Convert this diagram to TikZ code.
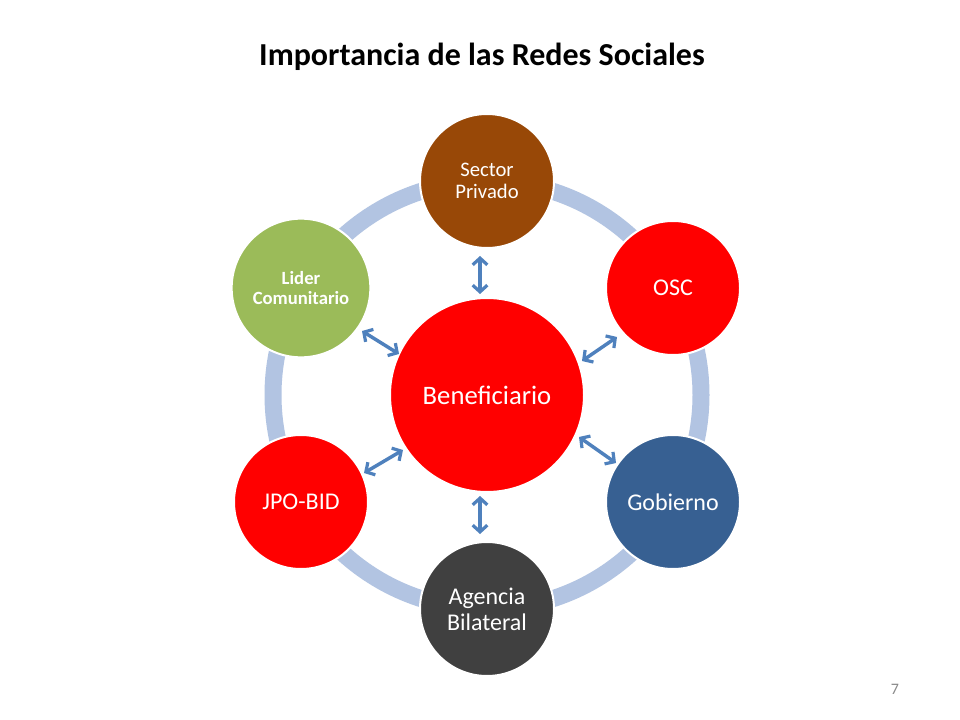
\documentclass[tikz,border=0pt]{standalone}
\usepackage{fontspec}
\setmainfont{Carlito}
\usetikzlibrary{arrows.meta}
\definecolor{ringc}{HTML}{B2C4E2}
\definecolor{arrowc}{HTML}{4F81BD}
\definecolor{brownc}{HTML}{984807}
\definecolor{greenc}{HTML}{9BBB59}
\definecolor{bluec}{HTML}{376092}
\definecolor{grayc}{HTML}{404040}
\definecolor{pagec}{HTML}{898989}
\tikzset{
  bubble/.style={circle, draw=white, line width=1.5pt, text=white, align=center, inner sep=0pt, minimum size=100.5pt},
  ringline/.style={draw=ringc, line width=12.75pt},
  link/.style={draw=arrowc, line width=2.6pt, {Straight Barb[length=5pt,width=11pt,line width=2.4pt]}-{Straight Barb[length=5pt,width=11pt,line width=2.4pt]}},
}
\begin{document}
\begin{tikzpicture}[x=0.75pt,y=-0.75pt]
\useasboundingbox (0,0) rectangle (960,720);
\fill[white] (0,0) rectangle (960,720);
\node[font=\bfseries\fontsize{24}{28}\selectfont, anchor=base] (title) at (482,66) {Importancia de las Redes Sociales};
\coordinate (ctr) at (487,395);
\draw[ringline] (ctr) circle (214);
\node[bubble, fill=red, minimum size=145.5pt, font=\fontsize{20}{24}\selectfont] (ben) at (487,395) {Beneficiario};
\node[bubble, fill=brownc, font=\fontsize{15.5}{17}\selectfont] (sp) at (487,181) {Sector\\Privado};
\node[bubble, fill=red, font=\fontsize{18}{20}\selectfont] (osc) at (673,288) {OSC};
\node[bubble, fill=bluec, font=\fontsize{18}{20}\selectfont] (gob) at (673,502) {Gobierno};
\node[bubble, fill=grayc, font=\fontsize{18}{19.5}\selectfont] (ab) at (487,609) {Agencia\\Bilateral};
\node[bubble, fill=red, font=\fontsize{18}{20}\selectfont] (jpo) at (301,502) {JPO-BID};
\node[bubble, fill=greenc, minimum size=104pt, font=\bfseries\fontsize{14}{15}\selectfont] (lc) at (301,288) {Lider\\Comunitario};
\coordinate (a1s) at (480,256); \coordinate (a1e) at (480,294);
\coordinate (a2s) at (480,496); \coordinate (a2e) at (480,534);
\coordinate (a3s) at (362,331); \coordinate (a3e) at (399,354);
\coordinate (a4s) at (582,361); \coordinate (a4e) at (617,337);
\coordinate (a5s) at (364,473); \coordinate (a5e) at (403,450);
\coordinate (a6s) at (579,437); \coordinate (a6e) at (616,463);
\draw[link] (a1s) -- (a1e);
\draw[link] (a2s) -- (a2e);
\draw[link] (a3s) -- (a3e);
\draw[link] (a4s) -- (a4e);
\draw[link] (a5s) -- (a5e);
\draw[link] (a6s) -- (a6e);
\node[text=pagec, font=\fontsize{12}{14}\selectfont] (pg) at (895,689) {7};
\end{tikzpicture}
\end{document}
